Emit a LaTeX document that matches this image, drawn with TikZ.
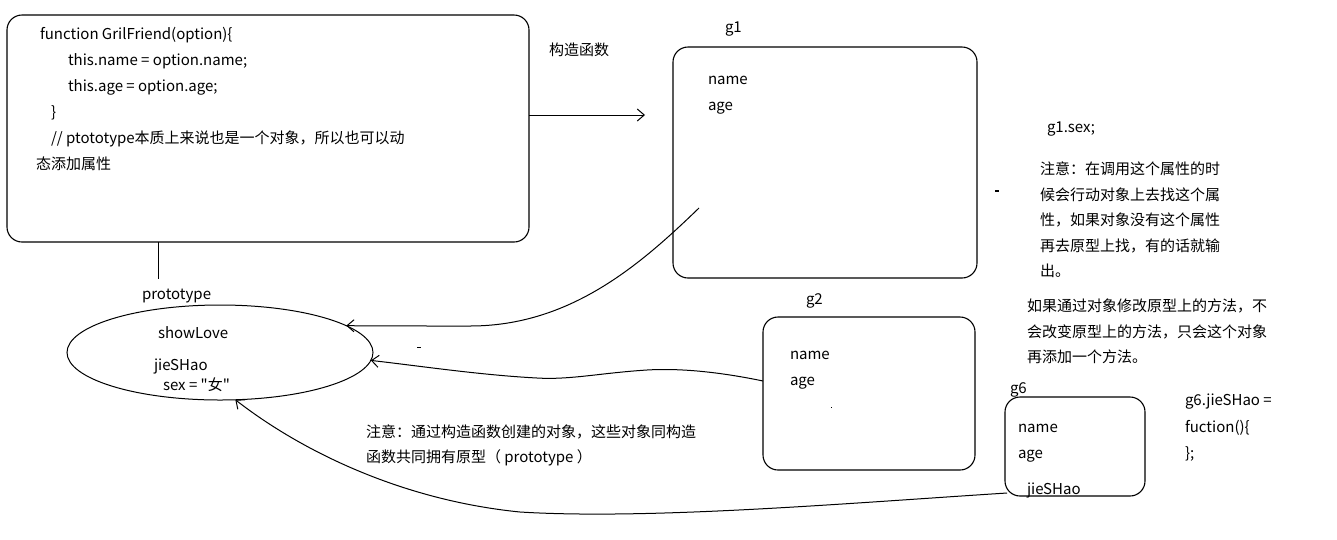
\documentclass[tikz,border=0pt]{standalone}
\usepackage{fontspec}
\newfontfamily\cjkfont{Noto Sans CJK SC}
\usetikzlibrary{shapes.geometric,arrows.meta}
\begin{document}
\begin{tikzpicture}[x=1pt,y=-1pt,
  every node/.style={inner sep=0pt, outer sep=0pt},
  lbl/.style={anchor=base west, font=\cjkfont\fontsize{15}{18}\selectfont},
  frame/.style={draw, rounded corners=15pt, line width=1.1pt},
  link/.style={line width=1pt, -{Straight Barb[length=7pt,width=12pt]}},
  line width=1pt]
\useasboundingbox (0,0) rectangle (1337,539);

% constructor box
\node[frame, minimum width=522pt, minimum height=227pt] (ctor) at (268,128.5) {};
\node[lbl] (c1) at (40,39) {function GrilFriend(option)\{};
\node[lbl] (c2) at (68,65) {this.name = option.name;};
\node[lbl] (c3) at (68,91) {this.age = option.age;};
\node[lbl] (c4) at (51,117) {\}};
\node[lbl] (c5) at (51,143) {// ptototype本质上来说也是一个对象，所以也可以动};
\node[lbl] (c6) at (36,169) {态添加属性};

% prototype ellipse
\node[draw, ellipse, line width=1pt, minimum width=306pt, minimum height=95pt] (proto) at (220,352.5) {};
\node[lbl] (ptitle) at (142,299) {prototype};
\node[lbl] (p1) at (158,338) {showLove};
\node[lbl] (p2) at (154,370) {jieSHao};
\node[lbl] (p3) at (163,390) {sex = "女"};
\coordinate (protoTop) at (158,279);
\draw (ctor.south -| protoTop) -- (protoTop);

% instance g1
\node[frame, minimum width=304pt, minimum height=231pt] (gone) at (825,162.5) {};
\node[lbl] (gonet) at (725,32) {g1};
\node[lbl] (gone1) at (708,84) {name};
\node[lbl] (gone2) at (708,110) {age};

% instance g2
\node[frame, minimum width=212pt, minimum height=153pt] (gtwo) at (869,393.5) {};
\node[lbl] (gtwot) at (806,304) {g2};
\node[lbl] (gtwo1) at (790,359) {name};
\node[lbl] (gtwo2) at (790,385) {age};

% instance g6
\node[frame, minimum width=140pt, minimum height=99pt] (gsix) at (1075,446.5) {};
\node[lbl] (gsixt) at (1010,393) {g6};
\node[lbl] (gsix1) at (1018,432) {name};
\node[lbl] (gsix2) at (1018,458) {age};
\node[lbl] (gsix3) at (1027,494) {jieSHao};

% notes
\node[lbl] (ctorlbl) at (549,55) {构造函数};
\node[lbl] (sex) at (1047,132) {g1.sex;};
\node[lbl] (n1) at (1040,174) {注意：在调用这个属性的时};
\node[lbl] (n2) at (1040,200) {候会行动对象上去找这个属};
\node[lbl] (n3) at (1040,225) {性，如果对象没有这个属性};
\node[lbl] (n4) at (1040,251) {再去原型上找，有的话就输};
\node[lbl] (n5) at (1040,276) {出。};
\node[lbl] (m1) at (1027,311) {如果通过对象修改原型上的方法，不};
\node[lbl] (m2) at (1027,337) {会改变原型上的方法，只会这个对象};
\node[lbl] (m3) at (1027,362) {再添加一个方法。};
\node[lbl] (f1) at (1185,405) {g6.jieSHao =};
\node[lbl] (f2) at (1185,432) {fuction()\{};
\node[lbl] (f3) at (1185,458) {\};};
\node[lbl] (q1) at (366,437) {注意：通过构造函数创建的对象，这些对象同构造};
\node[lbl] (q2) at (366,462) {函数共同拥有原型（ prototype ）};

% connectors
\coordinate (newEnd) at (645,115);
\draw[link] (ctor.east |- newEnd) -- (newEnd);

\coordinate (goneStart) at (699,208);
\draw[link] (goneStart) .. controls (640,265) and (570,326) .. (470,326)
  .. controls (420,326) and (380,326) .. (proto.12);

\coordinate (gtwoStart) at (763,381);
\draw[link] (gtwoStart) .. controls (720,372) and (680,368) .. (647,370)
  .. controls (600,373) and (570,380) .. (537,378)
  .. controls (480,375) and (420,366) .. (proto.-3);

\coordinate (gsixStart) at (1007,493);
\draw[link] (gsixStart) .. controls (850,503) and (650,520) .. (520,512)
  .. controls (400,500) and (300,450) .. (proto.-72);

% small stray marks
\fill (995,189.5) rectangle (999,191.5);
\fill (417,346.5) rectangle (421,347.5);
\fill (830.5,406.5) rectangle (831.5,408);
\end{tikzpicture}
\end{document}
